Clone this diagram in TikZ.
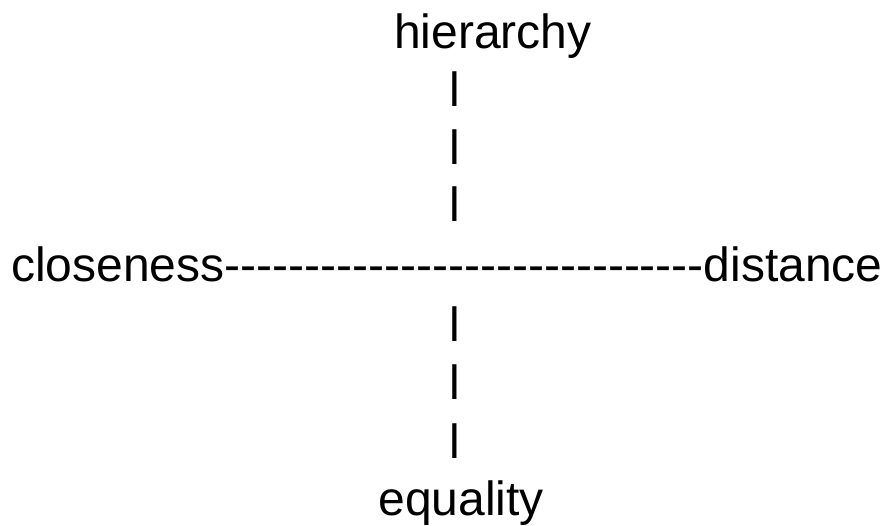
\documentclass[tikz,border=0pt]{standalone}
\usepackage{fontspec}
\setmainfont{Liberation Sans}[Ligatures=TeXOff]
\begin{document}
\begin{tikzpicture}[x=1pt,y=1pt,
  txt/.style={anchor=base west, inner sep=0pt, outer sep=0pt, font=\fontsize{48}{58}\selectfont, text=black}]
\useasboundingbox (0,0) rectangle (888,525);
\node[txt] (hier) at (394,525-48.3) {hierarchy};
\node[txt] (b1) at (449,525-106.7) {l};
\node[txt] (b2) at (449,525-165) {l};
\node[txt] (b3) at (449,525-222) {l};
\node[txt] (axis) at (11,525-281.5) {closeness------------------------------distance};
\node[txt] (b4) at (449,525-341.5) {l};
\node[txt] (b5) at (449,525-399.5) {l};
\node[txt] (b6) at (449,525-458) {l};
\node[txt] (eq) at (378.5,525-515.5) {equality};
\end{tikzpicture}
\end{document}
